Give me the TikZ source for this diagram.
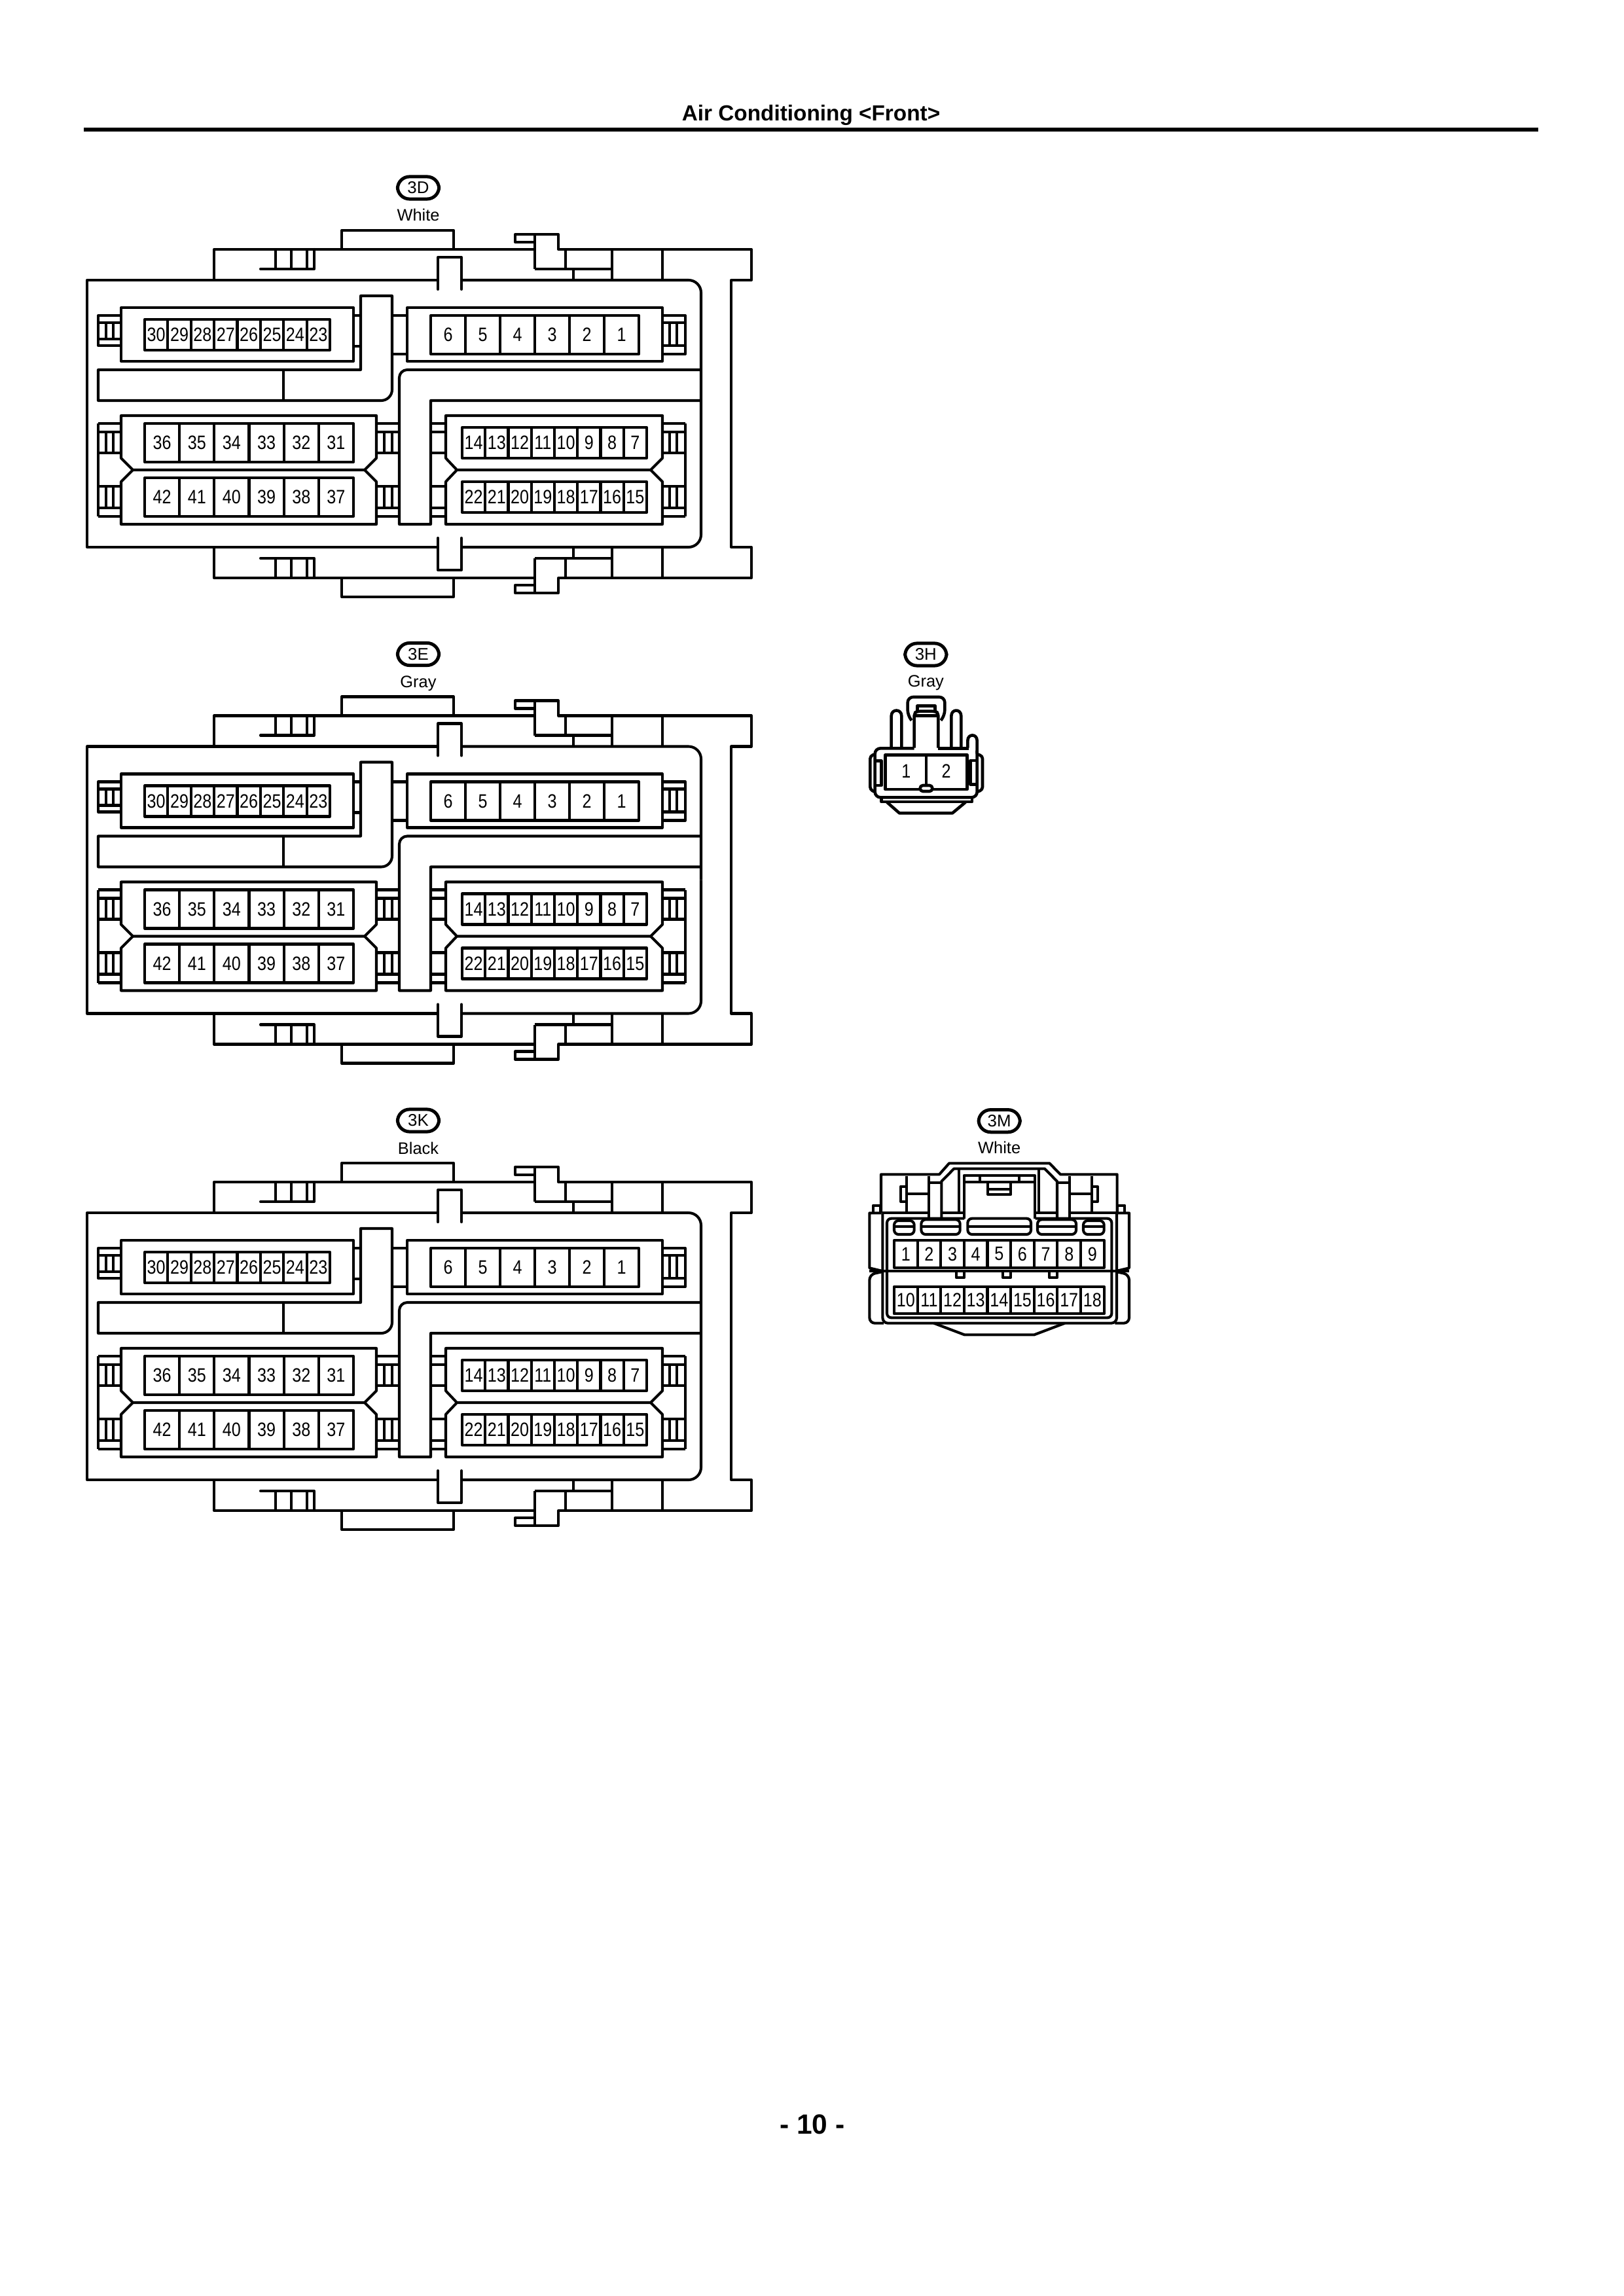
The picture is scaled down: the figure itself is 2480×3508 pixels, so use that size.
\documentclass[tikz,border=0pt]{standalone}
\usepackage{fontspec}
\setmainfont{Liberation Sans}
\newfontfamily\pinfont[FakeStretch=0.85]{Liberation Sans}
\tikzset{
  ln/.style={line width=0.98pt,line join=round},
  lnb/.style={line width=1.1pt,line join=round},
  pintext/.style={inner sep=0pt,font=\pinfont\fontsize{7.1}{8}\selectfont},
  badge/.style={draw,line width=1.2pt,rounded corners=4.4pt,minimum width=15.2pt,minimum height=8.2pt,inner sep=0pt,font=\fontsize{6.2}{7}\selectfont},
  colortext/.style={inner sep=0pt,anchor=base,font=\fontsize{6.1}{7}\selectfont},
  heading/.style={inner sep=0pt,font=\bfseries\fontsize{8}{9}\selectfont}
}
% prefix, x0, y0, x1, y1, n, labels
\newcommand{\pinrow}[7]{%
  \draw[ln] (#2,#3) rectangle (#4,#5);
  \foreach \t [count=\i] in {#7}{%
    \pgfmathsetmacro{\xa}{#2+(#4-#2)*(\i-1)/#6}
    \pgfmathsetmacro{\xb}{#2+(#4-#2)*\i/#6}
    \pgfmathsetmacro{\ym}{(#3+#5)/2}
    \ifnum\i>1 \draw[ln] (\xa,#3)--(\xa,#5);\fi
    \node[pintext] (#1-\t) at ({(\xa+\xb)/2},\ym) {\t};
  }%
}
\newcommand{\halfhousing}{%
  \draw[ln] (133,632)--(133,428)--(669,428);
  \draw[ln,line cap=round] (669,442)--(669,393)--(705,393)--(705,442);
  \draw[ln,rounded corners=4.6pt] (705,428)--(1071,428)--(1071,632);
  \draw[ln] (327,428)--(327,381)--(817,381);
  \draw[ln] (522,381)--(522,352)--(693,352)--(693,381);
  \draw[ln,line cap=round] (398,411)--(480,411)--(480,381);
  \foreach \x in {421,445,469} \draw[ln] (\x,381)--(\x,411);
  \draw[ln] (817,358)--(787,358)--(787,370)--(817,370);
  \draw[ln] (817,411)--(817,358)--(853,358)--(853,381)--(1148,381)--(1148,428)--(1117,428)--(1117,632);
  \draw[ln] (817,411)--(935,411);
  \draw[ln] (864,381)--(864,411);
  \draw[ln] (876,411)--(876,428);
  \draw[ln] (935,381)--(935,428);
  \draw[ln] (1012,381)--(1012,428);
}
\newcommand{\sidetab}[3]{%
  \foreach \x in {#3} \draw[ln] (\x,660)--(\x,692) (\x,743)--(\x,776);
  \foreach \y in {647,660,692,743,776,789} \draw[ln] (#1,\y)--(#2,\y);
}
\newcommand{\bighousing}[3]{%
  \node[badge] (badge#1) at (639,287) {#1};
  \node[colortext] (color#1) at (639,338) {#2};
  \halfhousing
  \begin{scope}[shift={(0,1264)},yscale=-1]\halfhousing\end{scope}
  % upper left block
  \draw[ln] (185,470) rectangle (540,552);
  \draw[ln] (185,482)--(150,482)--(150,528)--(185,528);
  \draw[ln] (150,493)--(185,493) (150,518)--(185,518);
  \foreach \x in {162,173} \draw[ln] (\x,493)--(\x,518);
  \draw[ln] (540,482)--(551,482) (540,529)--(551,529);
  \pinrow{#3a}{221}{488}{504}{535}{8}{30,29,28,27,26,25,24,23}
  % ribs
  \draw[ln] (551,565)--(551,452)--(599,452) [rounded corners=4pt] --(599,612) [sharp corners] --(150,612)--(150,565)--cycle;
  \draw[ln] (433,565)--(433,612);
  \draw[ln] (1071,565) [rounded corners=2.9pt] --(610,565) [sharp corners] --(610,801)--(658,801)--(658,612)--(1071,612);
  % upper right block
  \draw[ln] (599,482)--(622,482) (599,541)--(622,541);
  \draw[ln] (622,470) rectangle (1012,552);
  \draw[ln] (1012,482)--(1047,482)--(1047,541)--(1012,541);
  \draw[ln] (1012,493)--(1047,493) (1012,528)--(1047,528);
  \foreach \x in {1023,1034} \draw[ln] (\x,493)--(\x,528);
  \pinrow{#3b}{658}{482}{976}{541}{6}{6,5,4,3,2,1}
  % lower left block
  \draw[ln] (203,718)--(185,700)--(185,635)--(575,635)--(575,700)--(557,718)--cycle;
  \draw[ln] (203,718)--(185,736)--(185,801)--(575,801)--(575,736)--(557,718);
  \draw[ln] (150,647)--(150,789);
  \sidetab{150}{185}{162,173}
  \sidetab{575}{610}{587,599}
  \pinrow{#3c}{221}{647}{540}{706}{6}{36,35,34,33,32,31}
  \pinrow{#3d}{221}{730}{540}{789}{6}{42,41,40,39,38,37}
  % lower right block
  \draw[ln] (698,718)--(681,700)--(681,635)--(1012,635)--(1012,700)--(994,718)--cycle;
  \draw[ln] (698,718)--(681,736)--(681,801)--(1012,801)--(1012,736)--(994,718);
  \draw[ln] (1047,647)--(1047,789);
  \sidetab{658}{681}{}
  \sidetab{1012}{1047}{1023,1034}
  \pinrow{#3e}{706}{653}{988}{700}{8}{14,13,12,11,10,9,8,7}
  \pinrow{#3f}{706}{736}{988}{783}{8}{22,21,20,19,18,17,16,15}
}
\begin{document}
\begin{tikzpicture}[x=0.24pt,y=-0.24pt]
\useasboundingbox (0,0) rectangle (2480,3508);
\fill[white] (0,0) rectangle (2480,3508);
\node[heading] (title) at (1239,176) {Air Conditioning <Front>};
\draw[line width=1.25pt] (128,198)--(2350,198);
\node[inner sep=0pt,font=\bfseries\fontsize{10.2}{11}\selectfont] (page) at (1241,3246) {- 10 -};

\begin{scope}\bighousing{3D}{White}{d}\end{scope}
\begin{scope}[shift={(0,712.5)}]\bighousing{3E}{Gray}{e}\end{scope}
\begin{scope}[shift={(0,1425)}]\bighousing{3K}{Black}{k}\end{scope}

% 3H
\begin{scope}[shift={(1300,960)},scale=1/3]
  \node[badge] (badge3H) at (343,120) {3H};
  \node[colortext] (color3H) at (343,270) {Gray};
  \draw[lnb,rounded corners=2pt] (278,422)--(260,400)--(260,315)--(430,315)--(430,400)--(412,422);
  \draw[lnb,rounded corners=1pt] (290,548)--(290,388)--(305,380)--(385,380)--(400,388)--(400,548);
  \draw[lnb] (305,385)--(305,355)--(385,355)--(385,385);
  \draw[lnb] (290,400)--(400,400);
  \draw[lnb] (185,548)--(185,402) .. controls (185,368) and (232,368) .. (232,402)--(232,548);
  \draw[lnb] (460,548)--(460,402) .. controls (460,368) and (505,368) .. (505,402)--(505,548);
  \draw[lnb] (535,548)--(535,515) .. controls (535,482) and (578,482) .. (578,515)--(578,575);
  \draw[lnb,rounded corners=2pt] (290,550)--(110,550)--(110,775)--(578,775)--(578,560);
  \draw[lnb] (400,550)--(540,550);
  \draw[lnb,rounded corners=1pt] (110,577)--(88,585)--(88,740)--(110,750);
  \draw[lnb,rounded corners=1pt] (578,577)--(603,585)--(603,740)--(578,750);
  \draw[lnb] (112,608)--(140,608)--(140,720)--(112,720);
  \draw[lnb] (576,606)--(548,606)--(548,716)--(576,716);
  \draw[lnb] (158,580) rectangle (532,738);
  \draw[lnb] (345,580)--(345,720);
  \draw[lnb,fill=white,rounded corners=1pt] (317,720) rectangle (373,747);
  \draw[lnb] (140,775)--(140,795)--(555,795)--(555,775);
  \draw[lnb] (165,797)--(222,847)--(465,847)--(525,797);
  \node[pintext] (h-1) at (253,655) {1};
  \node[pintext] (h-2) at (437,655) {2};
\end{scope}

% 3M
\begin{scope}[shift={(1300,1680)},scale=1/3]
  \node[badge] (badge3M) at (680,98) {3M};
  \node[colortext] (color3M) at (680,247) {White};
  \draw[ln] (138,520)--(138,343)--(405,343)--(450,292)--(910,292)--(960,343)--(1220,343)--(1220,520);
  \draw[ln] (415,545)--(415,375)--(472,317)--(888,317)--(945,375)--(945,545);
  \draw[ln] (358,350)--(358,545) (1003,350)--(1003,545);
  \draw[ln] (358,380)--(415,380) (945,380)--(1003,380);
  \draw[ln] (255,350)--(255,520) (1105,350)--(1105,520);
  \draw[ln] (255,432)--(358,432) (1003,432)--(1105,432);
  \draw[ln] (255,398)--(228,398)--(228,468)--(255,468);
  \draw[ln] (1105,398)--(1130,398)--(1130,468)--(1105,468);
  \draw[ln] (495,320)--(495,520) (862,320)--(862,520);
  \draw[ln] (518,545)--(518,348)--(842,348)--(842,545);
  \draw[ln] (518,378)--(842,378);
  \draw[ln] (590,348)--(590,378) (770,348)--(770,378);
  \draw[ln] (627,378)--(627,435)--(733,435)--(733,378);
  \draw[ln] (627,410)--(733,410);
  \draw[ln] (415,520)--(518,520) (842,520)--(945,520);
  \draw[ln] (358,520)--(145,520) (1003,520)--(1218,520);
  % outer shell
  \draw[ln] (140,520)--(85,520)--(85,772)--(140,785);
  \draw[ln,rounded corners=2pt] (140,790)--(85,802)--(85,1025)--(150,1025);
  \draw[ln] (1220,520)--(1275,520)--(1275,772)--(1220,785);
  \draw[ln,rounded corners=2pt] (1220,790)--(1275,802)--(1275,1025)--(1210,1025);
  \draw[ln] (102,520)--(102,485)--(135,485)--(135,520);
  \draw[ln] (1222,520)--(1222,485)--(1255,485)--(1255,520);
  % body
  \draw[ln,rounded corners=2pt] (145,520)--(145,1025)--(1218,1025)--(1218,520);
  \draw[ln,rounded corners=1.6pt] (520,545)--(165,545)--(165,1000)--(1195,1000)--(1195,545)--(845,545);
  \draw[ln] (85,787)--(1275,787);
  % slots
  \foreach \a/\b/\c in {198/290/555,322/500/550,535/825/545,855/1032/550,1065/1160/555}{
    \draw[ln,rounded corners=1.6pt] (\a,\c) rectangle (\b,618);
    \draw[ln] (\a,582)--(\b,582);
  }
  \foreach \a in {482,695,908} \draw[ln] (\a,790)--(\a,815)--(\a+38,815)--(\a+38,790);
  \draw[ln] (380,1025)--(520,1078)--(840,1078)--(980,1025);
  \pinrow{ma}{198}{645}{1160}{770}{9}{1,2,3,4,5,6,7,8,9}
  \pinrow{mb}{198}{857}{1160}{982}{9}{10,11,12,13,14,15,16,17,18}
\end{scope}
\end{tikzpicture}
\end{document}
